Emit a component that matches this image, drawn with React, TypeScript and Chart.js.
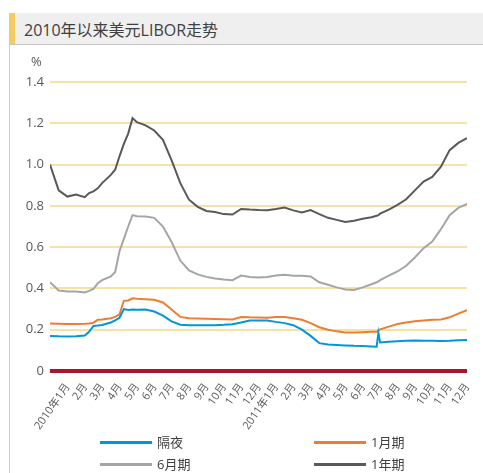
import React, { useEffect, useRef } from "react";
import { Chart, registerables } from "chart.js";

Chart.register(...registerables);

const FONT = "'Open Sans', 'Noto Sans CJK SC', sans-serif";

const titleText = "2010年以来美元LIBOR走势";
const yUnit = "%";
const seriesNames = ["隔夜", "1月期", "6月期", "1年期"];
const seriesColors = ["#0096DC", "#ED7D31", "#A5A5A5", "#595959"];

const monthLabels = [
  "2010年1月", "2月", "3月", "4月", "5月", "6月", "7月", "8月", "9月", "10月", "11月", "12月",
  "2011年1月", "2月", "3月", "4月", "5月", "6月", "7月", "8月", "9月", "10月", "11月", "12月",
];

const yTickValues = [0, 0.2, 0.4, 0.6, 0.8, 1.0, 1.2, 1.4];

// sample positions, in months since 1 Jan 2010
const monthPos = [
  0, 0.5, 1, 1.5, 2, 2.25, 2.5, 2.75, 3, 3.5, 3.75, 4, 4.25, 4.5, 4.75, 5,
  5.5, 6, 6.5, 7, 7.5, 8, 8.5, 9, 9.5, 10, 10.5, 11, 11.5, 12,
  12.5, 13, 13.5, 14, 14.5, 15, 15.5, 16, 16.5, 17, 17.5, 18,
  18.5, 18.8, 18.9, 19, 19.5, 20, 20.5, 21, 21.5, 22, 22.5, 23, 23.5, 24,
];

const overnight = [
  0.17, 0.168, 0.167, 0.168, 0.172, 0.19, 0.218, 0.22, 0.223, 0.235, 0.245, 0.258, 0.30, 0.296, 0.298, 0.297,
  0.298, 0.288, 0.268, 0.24, 0.224, 0.222, 0.222, 0.222, 0.222, 0.224, 0.227, 0.235, 0.245, 0.245,
  0.245, 0.238, 0.232, 0.222, 0.2, 0.17, 0.135, 0.128, 0.126, 0.124, 0.122, 0.121,
  0.119, 0.118, 0.185, 0.138, 0.142, 0.144, 0.146, 0.148, 0.147, 0.146, 0.145, 0.146, 0.149, 0.15,
];

const oneMonth = [
  0.23, 0.229, 0.228, 0.228, 0.229, 0.23, 0.234, 0.248, 0.25, 0.256, 0.262, 0.275, 0.34, 0.342, 0.352, 0.35,
  0.348, 0.345, 0.332, 0.298, 0.262, 0.255, 0.254, 0.253, 0.252, 0.251, 0.25, 0.262, 0.26, 0.259,
  0.258, 0.262, 0.262, 0.256, 0.248, 0.232, 0.212, 0.2, 0.192, 0.187, 0.186, 0.188,
  0.19, 0.19, 0.195, 0.202, 0.215, 0.228, 0.235, 0.241, 0.245, 0.248, 0.25, 0.26, 0.278, 0.295,
];

const sixMonth = [
  0.43, 0.39, 0.385, 0.385, 0.38, 0.388, 0.398, 0.425, 0.44, 0.458, 0.48, 0.58, 0.64, 0.70, 0.755, 0.75,
  0.748, 0.742, 0.70, 0.625, 0.535, 0.487, 0.468, 0.456, 0.448, 0.443, 0.44, 0.462, 0.455, 0.453,
  0.455, 0.463, 0.466, 0.462, 0.461, 0.458, 0.43, 0.418, 0.405, 0.395, 0.392, 0.405,
  0.42, 0.43, 0.434, 0.44, 0.462, 0.482, 0.51, 0.55, 0.595, 0.627, 0.687, 0.755, 0.79, 0.81,
];

const oneYear = [
  1.0, 0.875, 0.845, 0.855, 0.842, 0.862, 0.87, 0.885, 0.91, 0.95, 0.975, 1.04, 1.10, 1.15, 1.225, 1.205,
  1.19, 1.165, 1.12, 1.02, 0.91, 0.83, 0.795, 0.775, 0.77, 0.76, 0.758, 0.785, 0.782, 0.78,
  0.779, 0.785, 0.792, 0.778, 0.768, 0.78, 0.76, 0.742, 0.732, 0.722, 0.728, 0.738,
  0.745, 0.752, 0.755, 0.762, 0.782, 0.805, 0.832, 0.875, 0.918, 0.94, 0.99, 1.07, 1.105, 1.128,
];

const seriesValues = [overnight, oneMonth, sixMonth, oneYear];

function ChartCanvas() {
  const ref = useRef<HTMLCanvasElement | null>(null);
  useEffect(() => {
    if (!ref.current) return;
    const chart = new Chart(ref.current, {
      type: "line",
      data: {
        datasets: seriesNames.map((name, i) => ({
          label: name,
          data: monthPos.map((x, j) => ({ x, y: seriesValues[i][j] })),
          borderColor: seriesColors[i],
          backgroundColor: seriesColors[i],
          borderWidth: 2,
          pointRadius: 0,
          tension: 0,
          fill: false,
        })),
      },
      options: {
        animation: false,
        responsive: false,
        maintainAspectRatio: false,
        layout: { padding: { top: 82, right: 16, left: 0, bottom: 0 } },
        plugins: { legend: { display: false }, tooltip: { enabled: false }, title: { display: false } },
        scales: {
          x: {
            type: "linear",
            min: 0,
            max: 24,
            afterBuildTicks: (scale: any) => {
              scale.ticks = monthLabels.map((_, i) => ({ value: i + 0.45 }));
            },
            afterFit: (scale: any) => {
              scale.height = 102;
            },
            grid: { display: false, drawTicks: false },
            border: { display: false },
            ticks: {
              autoSkip: false,
              minRotation: 55,
              maxRotation: 55,
              padding: 10,
              labelOffset: 10,
              color: "#595959",
              font: { family: FONT, size: 11 },
              callback: (_v: any, index: number) => monthLabels[index],
            },
          },
          y: {
            min: 0,
            max: 1.4,
            afterBuildTicks: (scale: any) => {
              scale.ticks = yTickValues.map((v) => ({ value: v }));
            },
            afterFit: (scale: any) => {
              scale.width = 50;
            },
            border: { display: false },
            grid: {
              drawTicks: false,
              color: (ctx: any) => (ctx.tick && ctx.tick.value === 0 ? "#A6172B" : "#F7E2A6"),
              lineWidth: (ctx: any) => (ctx.tick && ctx.tick.value === 0 ? 4 : 2),
            },
            ticks: {
              padding: 6,
              color: "#595959",
              font: { family: FONT, size: 13 },
              callback: (v: any) => (Number(v) === 0 ? "0" : Number(v).toFixed(1)),
            },
          },
        },
      },
    });
    return () => chart.destroy();
  }, []);
  return (
    <canvas
      ref={ref}
      width={483}
      height={473}
      style={{ position: "absolute", left: 0, top: 0, width: 483, height: 473 }}
    />
  );
}

export default function App() {
  const legendPos = [
    { left: 100, top: 442 },
    { left: 314, top: 442 },
    { left: 100, top: 464 },
    { left: 314, top: 464 },
  ];
  return (
    <div
      style={{
        position: "absolute",
        left: 0,
        top: 0,
        width: 483,
        height: 473,
        background: "#ffffff",
        overflow: "hidden",
        fontFamily: FONT,
      }}
    >
      <div
        style={{
          position: "absolute",
          left: 9,
          top: 13,
          width: 474,
          height: 31,
          background: "#EFEFEF",
          borderBottom: "1px solid #C4C4C4",
        }}
      />
      <div style={{ position: "absolute", left: 9, top: 13, width: 6, height: 31, background: "#F6CB5E" }} />
      <div style={{ position: "absolute", left: 9, top: 45, width: 1, height: 428, background: "#CFCFCF" }} />
      <div
        style={{
          position: "absolute",
          left: 24,
          top: 18,
          height: 24,
          lineHeight: "24px",
          fontSize: 16,
          color: "#404040",
          whiteSpace: "nowrap",
        }}
      >
        {titleText}
      </div>
      <ChartCanvas />
      <div
        style={{
          position: "absolute",
          left: 31,
          top: 52,
          fontSize: 13,
          lineHeight: "18px",
          color: "#595959",
        }}
      >
        {yUnit}
      </div>
      {seriesNames.map((name, i) => (
        <div key={name}>
          <div
            style={{
              position: "absolute",
              left: legendPos[i].left,
              top: legendPos[i].top - 1.5,
              width: 52,
              height: 3,
              background: seriesColors[i],
            }}
          />
          <div
            style={{
              position: "absolute",
              left: legendPos[i].left + 57,
              top: legendPos[i].top - 9,
              fontSize: 13,
              lineHeight: "18px",
              color: "#404040",
              whiteSpace: "nowrap",
            }}
          >
            {name}
          </div>
        </div>
      ))}
    </div>
  );
}
